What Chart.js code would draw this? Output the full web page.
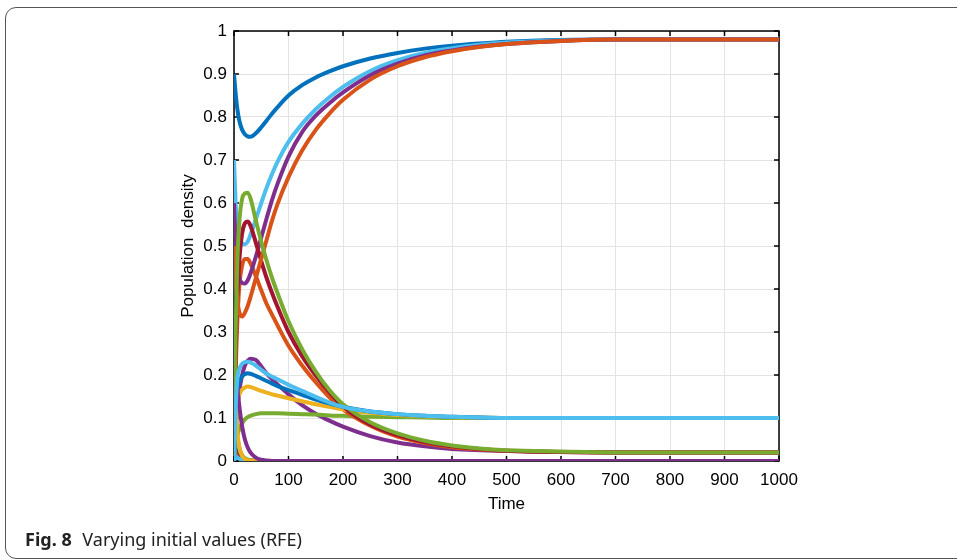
<!DOCTYPE html>
<html>
<head>
<meta charset="utf-8">
<script src="https://cdn.jsdelivr.net/npm/chart.js@4.4.1/dist/chart.umd.min.js"></script>
<style>
    body { margin: 0; background: #fff; overflow: hidden; }
    #wrap { position: relative; width: 957px; height: 560px; }
    #frame {
        position: absolute; left: 5px; top: 7px; width: 1000px; height: 552px;
        border: 1px solid #555; border-radius: 11px; box-sizing: border-box;
    }
    #caption {
        position: absolute; left: 25px; top: 527px;
        font-family: "Noto Sans", "Open Sans", sans-serif; font-size: 18px; color: #222;
    }
    #caption b { font-weight: 700; margin-right: 6px; }
    canvas { position: absolute; left: 0; top: 0; }
</style>
</head>
<body>
<div id="wrap">
    <div id="frame"></div>
    <canvas id="grafico" width="957" height="560"></canvas>
    <div id="caption"><b>Fig. 8</b> Varying initial values (RFE)</div>
</div>
<script>
// Tempo (grade comum a todas as curvas)
var times = [0, 3, 6, 10, 15, 20, 25, 30, 40, 50, 60, 70, 80, 100, 125, 150, 175, 200, 250, 300, 350, 400, 450, 500, 600, 700, 800, 900, 1000];

var xTicks = [0, 100, 200, 300, 400, 500, 600, 700, 800, 900, 1000];
var yTicks = [0, 0.1, 0.2, 0.3, 0.4, 0.5, 0.6, 0.7, 0.8, 0.9, 1];

// Execucao 1
var run1C1 = [0.9, 0.855, 0.82, 0.79, 0.77, 0.76, 0.755, 0.754, 0.762, 0.776, 0.792, 0.808, 0.823, 0.85, 0.874, 0.892, 0.906, 0.918, 0.936, 0.949, 0.959, 0.966, 0.971, 0.975, 0.979, 0.98, 0.98, 0.98, 0.98];
var run1C2 = [0.05, 0.03, 0.015, 0.006, 0.002, 0.001, 0, 0, 0, 0, 0, 0, 0, 0, 0, 0, 0, 0, 0, 0, 0, 0, 0, 0, 0, 0, 0, 0, 0];
var run1C3 = [0.05, 0.04, 0.03, 0.018, 0.008, 0.004, 0.002, 0.001, 0, 0, 0, 0, 0, 0, 0, 0, 0, 0, 0, 0, 0, 0, 0, 0, 0, 0, 0, 0, 0];
var run1C4 = [0, 0.07, 0.12, 0.165, 0.2, 0.222, 0.233, 0.238, 0.235, 0.22, 0.203, 0.19, 0.178, 0.155, 0.13, 0.11, 0.094, 0.08, 0.058, 0.043, 0.034, 0.028, 0.025, 0.023, 0.021, 0.02, 0.02, 0.02, 0.02];
var run1C5 = [0, 0.04, 0.06, 0.075, 0.088, 0.097, 0.102, 0.105, 0.109, 0.111, 0.111, 0.111, 0.111, 0.11, 0.109, 0.108, 0.106, 0.105, 0.103, 0.102, 0.101, 0.1, 0.1, 0.1, 0.1, 0.1, 0.1, 0.1, 0.1];

// Execucao 2
var run2C1 = [0.7, 0.6, 0.545, 0.515, 0.505, 0.504, 0.51, 0.525, 0.562, 0.6, 0.636, 0.668, 0.696, 0.742, 0.784, 0.818, 0.846, 0.87, 0.907, 0.932, 0.949, 0.96, 0.968, 0.973, 0.978, 0.98, 0.98, 0.98, 0.98];
var run2C2 = [0.1, 0.06, 0.035, 0.018, 0.008, 0.004, 0.002, 0.001, 0, 0, 0, 0, 0, 0, 0, 0, 0, 0, 0, 0, 0, 0, 0, 0, 0, 0, 0, 0, 0];
var run2C3 = [0.1, 0.07, 0.045, 0.025, 0.012, 0.006, 0.003, 0.001, 0, 0, 0, 0, 0, 0, 0, 0, 0, 0, 0, 0, 0, 0, 0, 0, 0, 0, 0, 0, 0];
var run2C4 = [0, 0.2, 0.32, 0.41, 0.455, 0.47, 0.47, 0.46, 0.43, 0.397, 0.365, 0.34, 0.315, 0.268, 0.222, 0.183, 0.148, 0.12, 0.082, 0.057, 0.042, 0.032, 0.027, 0.024, 0.021, 0.02, 0.02, 0.02, 0.02];
var run2C5 = [0, 0.08, 0.13, 0.155, 0.166, 0.171, 0.173, 0.172, 0.168, 0.163, 0.159, 0.155, 0.152, 0.146, 0.139, 0.132, 0.126, 0.12, 0.112, 0.107, 0.104, 0.102, 0.101, 0.1, 0.1, 0.1, 0.1, 0.1, 0.1];

// Execucao 3
var run3C1 = [0.6, 0.5, 0.45, 0.425, 0.414, 0.413, 0.42, 0.435, 0.475, 0.52, 0.565, 0.608, 0.645, 0.708, 0.765, 0.803, 0.832, 0.857, 0.897, 0.924, 0.943, 0.955, 0.964, 0.97, 0.977, 0.98, 0.98, 0.98, 0.98];
var run3C2 = [0.15, 0.1, 0.06, 0.03, 0.013, 0.006, 0.003, 0.001, 0, 0, 0, 0, 0, 0, 0, 0, 0, 0, 0, 0, 0, 0, 0, 0, 0, 0, 0, 0, 0];
var run3C3 = [0, 0.01, 0.008, 0.005, 0.002, 0.001, 0, 0, 0, 0, 0, 0, 0, 0, 0, 0, 0, 0, 0, 0, 0, 0, 0, 0, 0, 0, 0, 0, 0];
var run3C4 = [0.02, 0.25, 0.38, 0.47, 0.53, 0.553, 0.557, 0.548, 0.508, 0.465, 0.425, 0.39, 0.358, 0.3, 0.244, 0.199, 0.16, 0.127, 0.085, 0.06, 0.044, 0.034, 0.028, 0.024, 0.021, 0.02, 0.02, 0.02, 0.02];
var run3C5 = [0, 0.1, 0.16, 0.185, 0.197, 0.202, 0.204, 0.203, 0.198, 0.192, 0.186, 0.18, 0.174, 0.165, 0.154, 0.143, 0.134, 0.126, 0.115, 0.109, 0.105, 0.103, 0.101, 0.1, 0.1, 0.1, 0.1, 0.1, 0.1];

// Execucao 4
var run4C1 = [0.5, 0.42, 0.375, 0.345, 0.336, 0.345, 0.36, 0.38, 0.425, 0.47, 0.515, 0.56, 0.598, 0.66, 0.722, 0.77, 0.808, 0.84, 0.887, 0.918, 0.939, 0.953, 0.963, 0.97, 0.977, 0.98, 0.98, 0.98, 0.98];
var run4C2 = [0.3, 0.15, 0.07, 0.03, 0.012, 0.005, 0.002, 0.001, 0, 0, 0, 0, 0, 0, 0, 0, 0, 0, 0, 0, 0, 0, 0, 0, 0, 0, 0, 0, 0];
var run4C3 = [0.22, 0.2, 0.17, 0.125, 0.08, 0.05, 0.032, 0.02, 0.008, 0.003, 0.001, 0, 0, 0, 0, 0, 0, 0, 0, 0, 0, 0, 0, 0, 0, 0, 0, 0, 0];
var run4C4 = [0.05, 0.3, 0.46, 0.56, 0.61, 0.622, 0.624, 0.612, 0.56, 0.51, 0.465, 0.425, 0.39, 0.325, 0.26, 0.208, 0.165, 0.132, 0.09, 0.064, 0.047, 0.036, 0.029, 0.025, 0.022, 0.02, 0.02, 0.02, 0.02];
var run4C5 = [0, 0.12, 0.19, 0.215, 0.226, 0.23, 0.231, 0.229, 0.222, 0.212, 0.203, 0.196, 0.19, 0.177, 0.163, 0.149, 0.136, 0.126, 0.115, 0.109, 0.105, 0.103, 0.101, 0.1, 0.1, 0.1, 0.1, 0.1, 0.1];

// Ordem de cores padrao do MATLAB
var colorOrder = ["#0072BD", "#D95319", "#EDB120", "#7E2F8E", "#77AC30", "#4DBEEE", "#A2142F"];

var allSeries = [
    run1C1, run1C2, run1C3, run1C4, run1C5,
    run2C1, run2C2, run2C3, run2C4, run2C5,
    run3C1, run3C2, run3C3, run3C4, run3C5,
    run4C1, run4C2, run4C3, run4C4, run4C5
];

var datasets = allSeries.map(function(values, i) {
    return {
        data: values.map(function(v, k) { return { x: times[k], y: v }; }),
        borderColor: colorOrder[i % colorOrder.length],
        borderWidth: 4,
        pointRadius: 0,
        cubicInterpolationMode: 'monotone',
        fill: false,
        order: -i
    };
});

// Caixa do eixo com marcas para dentro (estilo MATLAB)
var boxPlugin = {
    id: 'boxPlugin',
    beforeDatasetsDraw: function(chart) {
        var ctx = chart.ctx;
        var a = chart.chartArea;
        var xs = chart.scales.x;
        var ys = chart.scales.y;
        var len = 5;
        ctx.save();
        ctx.strokeStyle = '#000';
        ctx.lineWidth = 1.5;
        ctx.strokeRect(a.left, a.top, a.right - a.left, a.bottom - a.top);
        ctx.beginPath();
        xTicks.forEach(function(t) {
            var px = xs.getPixelForValue(t);
            ctx.moveTo(px, a.bottom); ctx.lineTo(px, a.bottom - len);
            ctx.moveTo(px, a.top); ctx.lineTo(px, a.top + len);
        });
        yTicks.forEach(function(t) {
            var py = ys.getPixelForValue(t);
            ctx.moveTo(a.left, py); ctx.lineTo(a.left + len, py);
            ctx.moveTo(a.right, py); ctx.lineTo(a.right - len, py);
        });
        ctx.stroke();
        ctx.restore();
    }
};

var fontFamily = 'Arial, "Liberation Sans", Helvetica, sans-serif';

var context = document.getElementById("grafico").getContext('2d');
var chart = new Chart(context, {
    type: 'line',
    data: { datasets: datasets },
    options: {
        responsive: false,
        animation: false,
        events: [],
        layout: { padding: { left: 172, top: 31, right: 178, bottom: 45 } },
        plugins: { legend: { display: false }, tooltip: { enabled: false } },
        scales: {
            x: {
                type: 'linear',
                min: 0,
                max: 1000,
                afterBuildTicks: function(scale) {
                    scale.ticks = xTicks.map(function(v) { return { value: v }; });
                },
                afterFit: function(scale) { scale.height = 54; },
                grid: { color: '#e3e3e3', lineWidth: 1, drawTicks: false },
                border: { display: false },
                ticks: {
                    color: '#000', padding: 9, maxRotation: 0,
                    font: { family: fontFamily, size: 17 },
                    callback: function(v) { return String(v); }
                },
                title: {
                    display: true, text: 'Time', color: '#000',
                    padding: { top: 0, bottom: 0 },
                    font: { family: fontFamily, size: 17 }
                }
            },
            y: {
                type: 'linear',
                min: 0,
                max: 1,
                afterBuildTicks: function(scale) {
                    scale.ticks = yTicks.map(function(v) { return { value: v }; });
                },
                afterFit: function(scale) { scale.width = 62; },
                grid: { color: '#e3e3e3', lineWidth: 1, drawTicks: false },
                border: { display: false },
                ticks: {
                    color: '#000', padding: 7,
                    font: { family: fontFamily, size: 17 },
                    callback: function(v) { return String(+v.toFixed(1)); }
                },
                title: {
                    display: true, text: 'Population  density', color: '#000',
                    padding: { top: 6, bottom: 0 },
                    font: { family: fontFamily, size: 17 }
                }
            }
        }
    },
    plugins: [boxPlugin]
});
</script>
</body>
</html>
